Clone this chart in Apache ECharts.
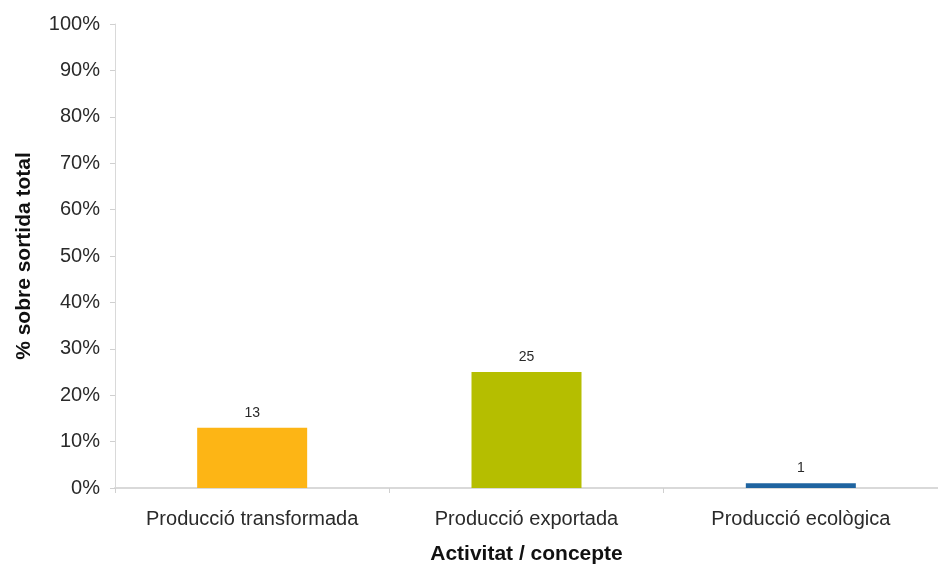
<!DOCTYPE html>
<html>
<head>
<meta charset="utf-8">
<script src="https://cdn.jsdelivr.net/npm/echarts@6/dist/echarts.min.js"></script>
<style>html,body{margin:0;padding:0;background:#fff;}#c{width:938px;height:570px;}</style>
</head>
<body>
<div id="c"></div>
<script>
var categories = ['Producció transformada', 'Producció exportada', 'Producció ecològica'];
var values = [13, 25, 1];
var barColors = ['#FDB515', '#B5BE00', '#1F64A0'];
var yAxisTitle = '% sobre sortida total';
var xAxisTitle = 'Activitat / concepte';

var chart = echarts.init(document.getElementById('c'), null, {renderer: 'canvas'});
var font = 'Liberation Sans, Arial, Helvetica, sans-serif';
chart.setOption({
  animation: false,
  grid: {left: 115, right: -8, top: 24, bottom: 72, containLabel: false},
  xAxis: {
    type: 'category',
    data: categories,
    axisLine: {lineStyle: {color: '#d9d9d9', width: 2}},
    axisTick: {show: true, length: 5, lineStyle: {color: '#d0d0d0'}},
    axisLabel: {interval: 0, color: '#2a2a2a', fontSize: 20, fontFamily: font, margin: 21},
    name: xAxisTitle,
    nameLocation: 'middle',
    nameGap: 56,
    nameTextStyle: {color: '#111', fontSize: 21, fontWeight: 'bold', fontFamily: font},
    splitLine: {show: false}
  },
  yAxis: {
    type: 'value',
    min: 0, max: 100, interval: 10,
    axisLine: {show: true, lineStyle: {color: '#d9d9d9', width: 1}},
    axisTick: {show: true, length: 5, lineStyle: {color: '#d0d0d0'}},
    axisLabel: {color: '#2a2a2a', fontSize: 20, fontFamily: font, margin: 15, formatter: '{value}%'},
    splitLine: {show: false},
    name: yAxisTitle,
    nameLocation: 'middle',
    nameGap: 80,
    nameRotate: 90,
    nameTextStyle: {color: '#111', fontSize: 21, fontWeight: 'bold', fontFamily: font}
  },
  series: [{
    type: 'bar',
    barWidth: 110,
    data: values.map(function (v, i) { return {value: v, itemStyle: {color: barColors[i]}}; }),
    label: {show: true, position: 'top', distance: 8, color: '#2a2a2a', fontSize: 14, fontFamily: font}
  }]
});
</script>
</body>
</html>
